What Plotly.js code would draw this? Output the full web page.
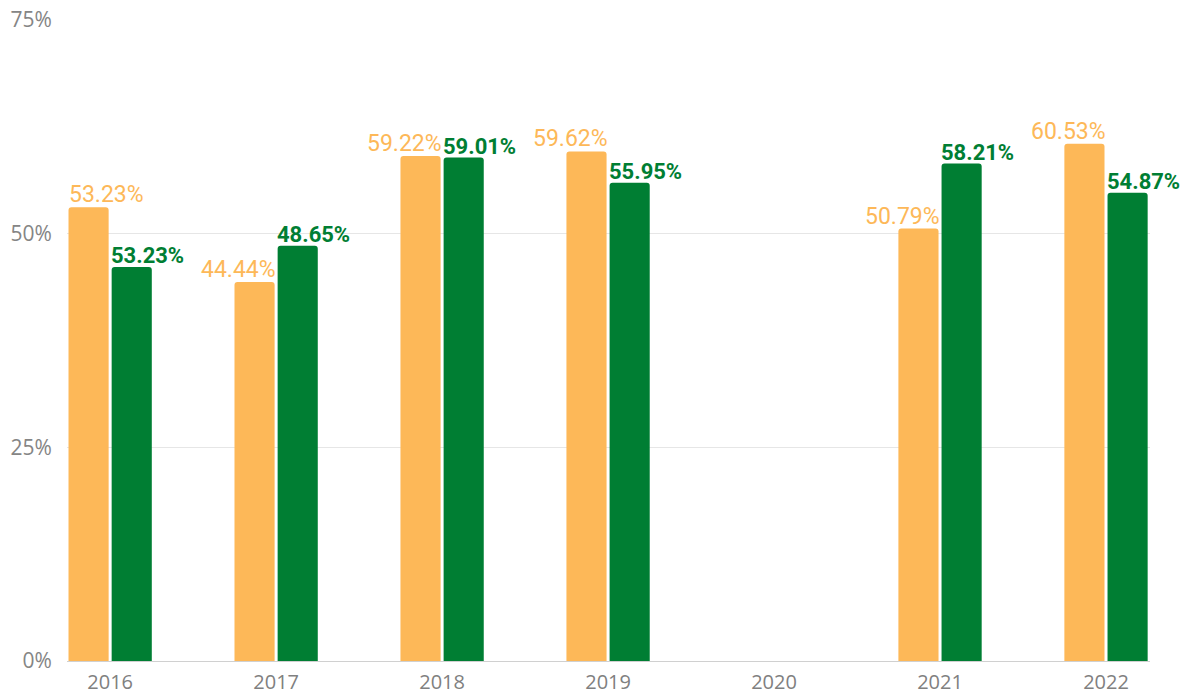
<!DOCTYPE html>
<html>
<head>
<meta charset="utf-8">
<script src="https://cdn.plot.ly/plotly-3.0.1.min.js"></script>
<style>html,body{margin:0;padding:0;background:#fff;}#chart{width:1190px;height:694px;}</style>
</head>
<body>
<div id="chart"></div>
<script>
const years = ['2016', '2017', '2018', '2019', '2020', '2021', '2022'];
const seriesA = [53.1, 44.35, 59.1, 59.62, null, 50.6, 60.53];
const seriesALabels = ['53.23%', '44.44%', '59.22%', '59.62%', '', '50.79%', '60.53%'];
const seriesB = [46.1, 48.6, 58.9, 55.95, null, 58.21, 54.8];
const seriesBLabels = ['53.23%', '48.65%', '59.01%', '55.95%', '', '58.21%', '54.87%'];
const yTickVals = [0, 25, 50, 75];
const yTickText = ['0%', '25%', '50%', '75%'];

const W = 1190, H = 694;
const margin = {l: 67, r: 40, t: 20, b: 33};
const xRange = [-0.26, 6.265];
const bargap = 0.48, bargroupgap = 0.07;
const colorA = '#FDB858', colorB = '#007E33';

// pixel geometry derived from the layout (for label alignment only)
const unitPx = (W - margin.l - margin.r) / (xRange[1] - xRange[0]);
const slotPx = unitPx * (1 - bargap) / 2;
const barPx = slotPx * (1 - bargroupgap);
const halfGap = (slotPx - barPx);

const traceA = {type: 'bar', x: years, y: seriesA, marker: {color: colorA}, hoverinfo: 'none'};
const traceB = {type: 'bar', x: years, y: seriesB, marker: {color: colorB}, hoverinfo: 'none'};

const annotations = [];
years.forEach((yr, i) => {
  if (seriesA[i] != null) {
    const fitsLeft = i > 0;
    annotations.push({
      x: i, xref: 'x', y: seriesA[i], yref: 'y',
      text: seriesALabels[i], showarrow: false,
      xanchor: fitsLeft ? 'right' : 'left', yanchor: 'bottom',
      xshift: fitsLeft ? (-halfGap / 2 + 3) : (-halfGap / 2 - barPx - 2),
      yshift: -3,
      font: {family: 'Roboto, sans-serif', size: 23, color: colorA}
    });
  }
  if (seriesB[i] != null) {
    annotations.push({
      x: i, xref: 'x', y: seriesB[i], yref: 'y',
      text: seriesBLabels[i], showarrow: false,
      xanchor: 'left', yanchor: 'bottom',
      xshift: halfGap / 2 - 3,
      yshift: -3,
      font: {family: 'Roboto, sans-serif', size: 22, color: colorB, weight: 'bold'}
    });
  }
});

const layout = {
  width: W, height: H, margin: margin,
  paper_bgcolor: '#fff', plot_bgcolor: '#fff',
  showlegend: false,
  barmode: 'group', bargap: bargap, bargroupgap: bargroupgap,
  barcornerradius: 3,
  annotations: annotations,
  xaxis: {
    type: 'category', range: xRange,
    showgrid: false, zeroline: false, showline: true, linecolor: '#d0d0d0', linewidth: 1,
    ticks: 'outside', ticklen: 3, tickcolor: 'rgba(0,0,0,0)',
    tickfont: {family: '"Open Sans", sans-serif', size: 20, color: '#808080'},
    automargin: false
  },
  yaxis: {
    range: [0, 75], tickvals: yTickVals, ticktext: yTickText,
    showgrid: true, gridcolor: '#e6e6e6', gridwidth: 1, zeroline: false,
    ticks: 'outside', ticklen: 10, tickcolor: 'rgba(0,0,0,0)',
    tickfont: {family: '"Open Sans", sans-serif', size: 21, color: '#858585'},
    automargin: false
  }
};
Plotly.newPlot('chart', [traceA, traceB], layout, {displayModeBar: false, staticPlot: true});
</script>
</body>
</html>
